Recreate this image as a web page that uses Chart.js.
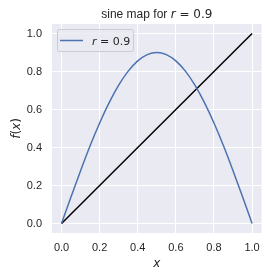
<!DOCTYPE html>
<html>
<head>
<meta charset="utf-8">
<script src="https://cdn.jsdelivr.net/npm/chart.js@4.4.1/dist/chart.umd.min.js"></script>
<style>
  html, body { margin: 0; padding: 0; background: #ffffff; }
  .box { width: 268px; height: 276px; position: relative; }
</style>
</head>
<body>
<div class="box"><canvas id="sineChart"></canvas></div>
<script>
  // values
  const xValues = [0, 0.05, 0.1, 0.15, 0.2, 0.25, 0.3, 0.35, 0.4, 0.45, 0.5,
                   0.55, 0.6, 0.65, 0.7, 0.75, 0.8, 0.85, 0.9, 0.95, 1.0];
  const sineValues = [0, 0.141, 0.278, 0.409, 0.529, 0.636, 0.728, 0.802, 0.856, 0.889, 0.9,
                      0.889, 0.856, 0.802, 0.728, 0.636, 0.529, 0.409, 0.278, 0.141, 0];
  const diagX = [0, 1];
  const diagY = [0, 1];
  const tickValues = [0, 0.2, 0.4, 0.6, 0.8, 1.0];

  const BLUE = "#4C72B0";
  const BG = "#EAEAF2";
  const SANS = "'Liberation Sans', Arial, sans-serif";
  const MATH = "'DejaVu Sans', sans-serif";

  // draw a run of [text, font] pieces starting at x
  function drawParts(ctx, parts, x, y) {
    parts.forEach(p => {
      ctx.font = p[1];
      ctx.fillText(p[0], x, y);
      x += ctx.measureText(p[0]).width;
    });
  }

  function partsWidth(ctx, parts) {
    let w = 0;
    parts.forEach(p => { ctx.font = p[1]; w += ctx.measureText(p[0]).width; });
    return w;
  }

  // ---------------------------
  // title, axis labels, legend
  // ---------------------------
  const decorations = {
    id: "decorations",
    beforeDraw(chart) {
      const { ctx, chartArea: a } = chart;
      ctx.save();
      ctx.fillStyle = BG;
      ctx.fillRect(a.left, a.top, a.right - a.left, a.bottom - a.top);
      ctx.restore();
    },
    afterDraw(chart) {
      const { ctx, chartArea: a } = chart;
      ctx.save();
      ctx.fillStyle = "#262626";
      ctx.textBaseline = "alphabetic";
      ctx.textAlign = "left";

      // title with italic r
      const title = [
        ["sine map for ", "12px " + SANS],
        ["r", "italic 12px " + MATH],
        [" = 0.9", "12px " + MATH]
      ];
      let tw = partsWidth(ctx, title);
      drawParts(ctx, title, (a.left + a.right) / 2 - tw / 2, 18);

      // x label
      const xl = [["x", "italic 12px " + MATH]];
      drawParts(ctx, xl, (a.left + a.right) / 2 - partsWidth(ctx, xl) / 2, 267);

      // y label
      const yl = [
        ["f", "italic 12px " + MATH],
        ["(", "12px " + MATH],
        ["x", "italic 12px " + MATH],
        [")", "12px " + MATH]
      ];
      ctx.save();
      ctx.translate(20, (a.top + a.bottom) / 2);
      ctx.rotate(-Math.PI / 2);
      drawParts(ctx, yl, -partsWidth(ctx, yl) / 2, 0);
      ctx.restore();

      // legend
      const lx = a.left + 5, ly = a.top + 5, lw = 76, lh = 22;
      ctx.fillStyle = "rgba(234,234,242,0.8)";
      ctx.strokeStyle = "#cccccc";
      ctx.lineWidth = 1;
      ctx.beginPath();
      ctx.roundRect(lx + 0.5, ly + 0.5, lw, lh, 2);
      ctx.fill();
      ctx.stroke();
      ctx.strokeStyle = BLUE;
      ctx.lineWidth = 1.5;
      ctx.beginPath();
      ctx.moveTo(lx + 3, ly + 11.5);
      ctx.lineTo(lx + 26, ly + 11.5);
      ctx.stroke();
      ctx.fillStyle = "#262626";
      drawParts(ctx, [["r", "italic 11px " + MATH], [" = 0.9", "11px " + MATH]], lx + 35, ly + 15.5);
      ctx.restore();
    }
  };

  const axisCommon = {
    type: "linear",
    min: -0.05,
    max: 1.05,
    afterBuildTicks: scale => { scale.ticks = tickValues.map(v => ({ value: v })); },
    grid: { color: "#ffffff", lineWidth: 1, drawTicks: false },
    border: { display: false },
    ticks: {
      color: "#262626",
      font: { family: "'Liberation Sans', Arial, sans-serif", size: 11 },
      callback: v => v.toFixed(1)
    }
  };

  new Chart(document.getElementById("sineChart"), {
    type: "scatter",
    data: {
      datasets: [
        {
          label: "r = 0.9",
          data: xValues.map((x, i) => ({ x: x, y: sineValues[i] })),
          showLine: true,
          borderColor: BLUE,
          borderWidth: 1.5,
          pointRadius: 0,
          cubicInterpolationMode: "monotone"
        },
        {
          label: "y = x",
          data: diagX.map((x, i) => ({ x: x, y: diagY[i] })),
          showLine: true,
          borderColor: "#000000",
          borderWidth: 1.5,
          pointRadius: 0
        }
      ]
    },
    options: {
      responsive: true,
      maintainAspectRatio: false,
      animation: false,
      layout: { padding: { left: 0, top: 24, right: 6, bottom: 0 } },
      plugins: { legend: { display: false }, tooltip: { enabled: false } },
      scales: {
        x: Object.assign({}, axisCommon, {
          ticks: Object.assign({}, axisCommon.ticks, { padding: 8, maxRotation: 0 }),
          afterFit: scale => { scale.height = 43; }
        }),
        y: Object.assign({}, axisCommon, {
          ticks: Object.assign({}, axisCommon.ticks, { padding: 10 }),
          afterFit: scale => { scale.width = 52; }
        })
      }
    },
    plugins: [decorations]
  });
</script>
</body>
</html>
